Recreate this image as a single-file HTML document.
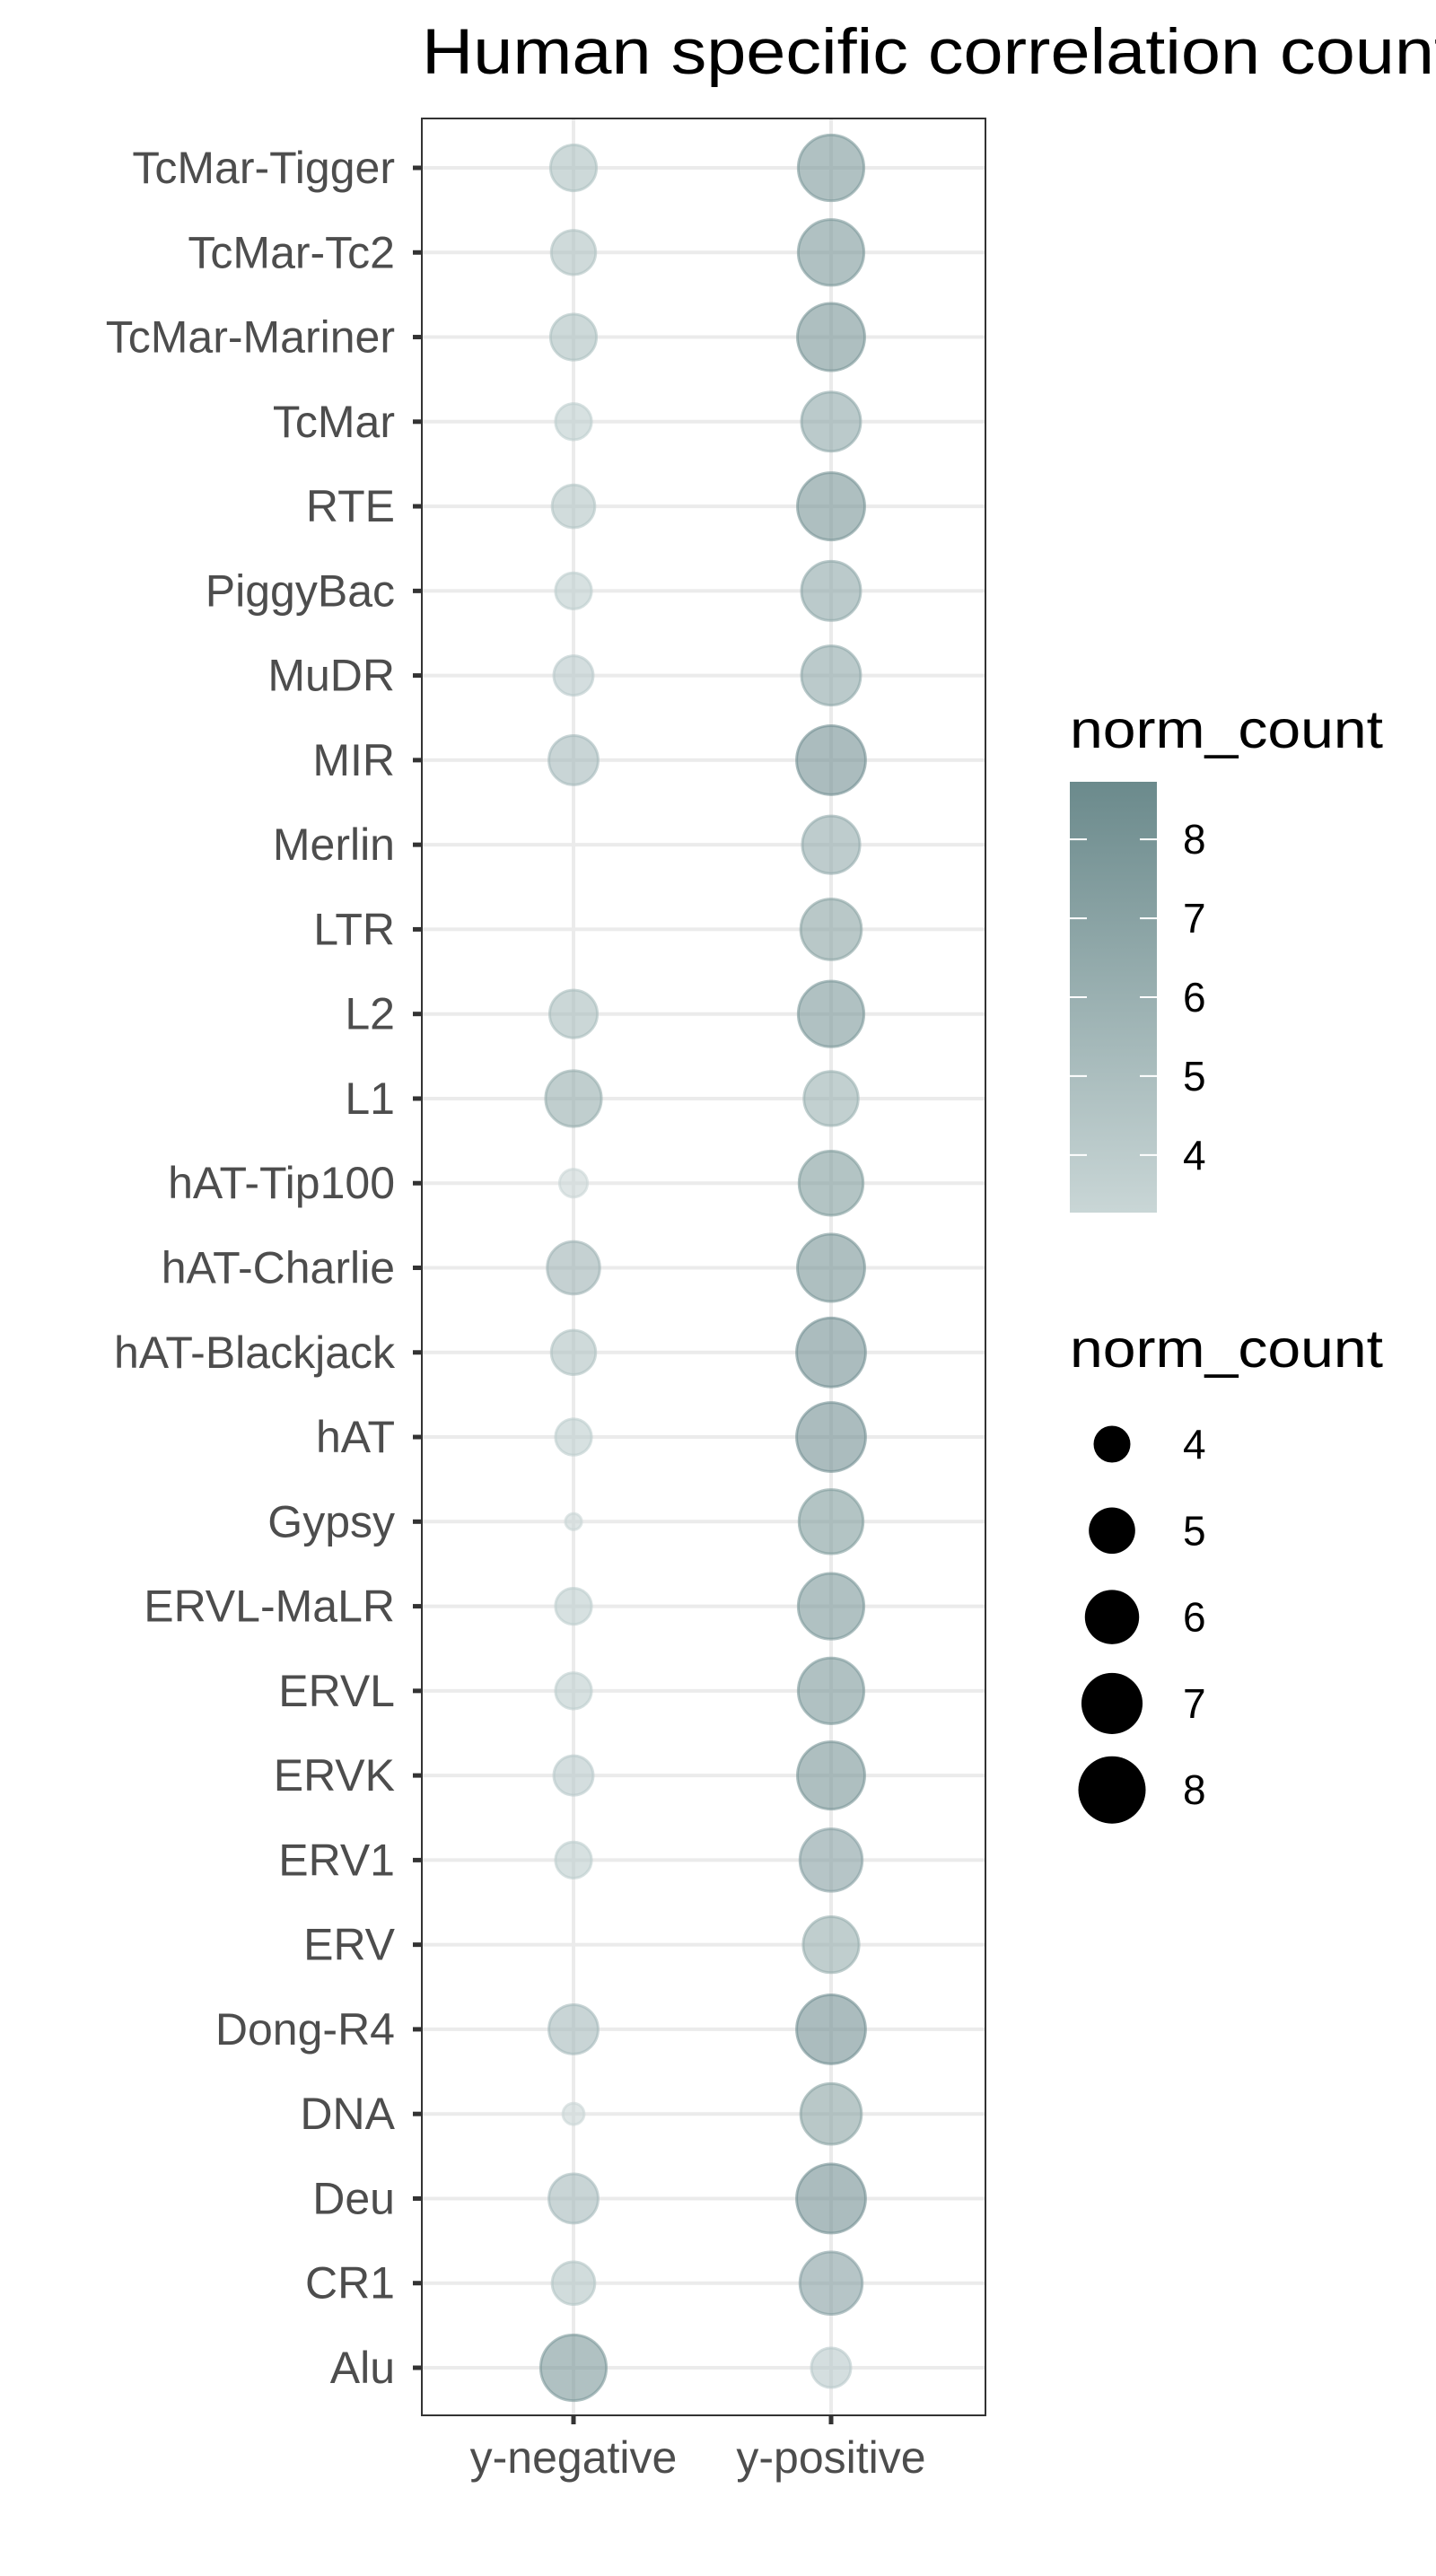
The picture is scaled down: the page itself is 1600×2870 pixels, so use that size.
<!DOCTYPE html>
<html><head><meta charset="utf-8"><style>
html,body{margin:0;padding:0;background:#fff;}
svg{display:block;font-family:"Liberation Sans","DejaVu Sans",sans-serif;}
</style></head><body>
<svg id="chart" width="1600" height="2870" viewBox="0 0 1600 2870" xmlns="http://www.w3.org/2000/svg">
<defs>
<linearGradient id="cbar" x1="0" y1="1" x2="0" y2="0">
<stop offset="0" stop-color="#c9d6d6"/><stop offset="1" stop-color="#6b8a8c"/>
</linearGradient>
</defs>
<text x="470" y="82" font-size="71" fill="#000" textLength="1150" lengthAdjust="spacingAndGlyphs">Human specific correlation count</text>
<g id="plot"></g>
<g id="legend"></g>
</svg>
<script>
const categories = ["TcMar-Tigger","TcMar-Tc2","TcMar-Mariner","TcMar","RTE","PiggyBac","MuDR","MIR","Merlin","LTR","L2","L1","hAT-Tip100","hAT-Charlie","hAT-Blackjack","hAT","Gypsy","ERVL-MaLR","ERVL","ERVK","ERV1","ERV","Dong-R4","DNA","Deu","CR1","Alu"];
const groups = ["y-negative","y-positive"];
const negValues = [4.95,4.77,4.95,3.94,4.59,3.94,4.25,5.35,null,null,5.16,6.22,3.28,5.78,4.77,3.94,2.63,3.94,3.94,4.25,3.94,null,5.35,2.87,5.35,4.59,7.73];
const posValues = [7.73,7.73,8.0,6.70,8.0,6.70,6.70,8.29,6.46,6.94,7.73,6.0,7.47,8.0,8.29,8.29,7.47,7.73,7.73,8.0,7.19,6.22,8.29,6.94,8.29,7.19,4.25];
const colorTicks = [4,5,6,7,8];
const sizeTicks = [4,5,6,7,8];

const NS="http://www.w3.org/2000/svg";
const plot=document.getElementById('plot'), legend=document.getElementById('legend');
function mk(tag,attrs,parent){const e=document.createElementNS(NS,tag);for(const k in attrs)e.setAttribute(k,attrs[k]);parent.appendChild(e);return e;}
const P={l:470,r:1098,t:132,b:2691};
const xPos=i=>[639,926][i];
const yPos=i=>187+i*(2638-187)/(categories.length-1);
const vmin=3.27,vmax=8.73;
function diam(v){return Math.sqrt(Math.max(986*v-2263,120));}
function colorOf(v){let t=(v-vmin)/(vmax-vmin);t=Math.max(0,Math.min(1,t));
 const a=[0xc9,0xd6,0xd6],b=[0x6b,0x8a,0x8c];
 return 'rgb('+a.map((c,k)=>Math.round(c+(b[k]-c)*t)).join(',')+')';}

categories.forEach((c,i)=>{const g=mk('line',{x1:P.l,x2:P.r,y1:yPos(i),y2:yPos(i),stroke:'#ebebeb','stroke-width':4},plot);
});
groups.forEach((g,i)=>{const l=mk('line',{x1:xPos(i),x2:xPos(i),y1:P.t,y2:P.b,stroke:'#ebebeb','stroke-width':4},plot);
});
[negValues,posValues].forEach((arr,gi)=>{arr.forEach((v,i)=>{if(v==null)return;
 const c=colorOf(v);
 const p=mk('circle',{cx:xPos(gi),cy:yPos(i),r:diam(v)/2,fill:c,'fill-opacity':0.6,stroke:c,'stroke-opacity':0.6,'stroke-width':3},plot);
 
 });});
const bd=mk('rect',{x:P.l,y:P.t,width:P.r-P.l,height:P.b-P.t,fill:'none',stroke:'#333','stroke-width':2},plot);

categories.forEach((c,i)=>{const y=yPos(i);
 const t=mk('line',{x1:P.l-10,x2:P.l,y1:y,y2:y,stroke:'#333','stroke-width':5},plot);
 
 const tx=mk('text',{x:440,y:y+17,'text-anchor':'end','font-size':50,fill:'#4d4d4d'},plot);tx.textContent=c;
 });
groups.forEach((g,i)=>{const x=xPos(i);
 const t=mk('line',{x1:x,x2:x,y1:P.b,y2:P.b+10,stroke:'#333','stroke-width':5},plot);
 
 const tx=mk('text',{x:x,y:2755,'text-anchor':'middle','font-size':50,fill:'#4d4d4d'},plot);tx.textContent=g;
 });
const lt1=mk('text',{x:1192,y:833,'font-size':59,fill:'#000',textLength:349,lengthAdjust:'spacingAndGlyphs'},legend);lt1.textContent='norm_count';

const cb=mk('rect',{x:1192,y:871,width:97,height:480,fill:'url(#cbar)'},legend);

const cy=v=>1351-(v-vmin)/(vmax-vmin)*480;
colorTicks.forEach(v=>{const y=cy(v);
 mk('line',{x1:1192,x2:1211,y1:y,y2:y,stroke:'#fff','stroke-width':2},legend);
 mk('line',{x1:1270,x2:1289,y1:y,y2:y,stroke:'#fff','stroke-width':2},legend);
 const t=mk('text',{x:1318,y:y+16,'font-size':46,fill:'#000'},legend);t.textContent=v;
 });
const lt2=mk('text',{x:1192,y:1523,'font-size':59,fill:'#000',textLength:349,lengthAdjust:'spacingAndGlyphs'},legend);lt2.textContent='norm_count';

sizeTicks.forEach((v,i)=>{const y=1609+i*96.3;
 const c=mk('circle',{cx:1239,cy:y,r:diam(v)/2,fill:'#000'},legend);
 
 const t=mk('text',{x:1318,y:y+16,'font-size':46,fill:'#000'},legend);t.textContent=v;
 });
</script>
</body></html>
